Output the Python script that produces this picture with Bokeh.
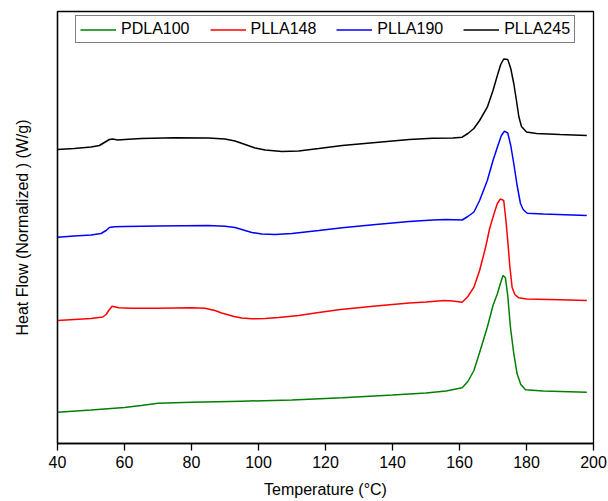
from bokeh.plotting import figure
from bokeh.models import Range1d, FixedTicker, Legend, LegendItem
from bokeh.embed import file_html
from bokeh.resources import INLINE

# ---- data (temperature in °C, heat flow normalized, curves offset vertically) ----
temp_pdla100 = [40, 50, 60, 65, 70, 80, 95, 110, 125, 140, 150, 156, 160.8, 162.5, 164.3, 166,
                168.3, 170, 171.3, 172.3, 173, 173.7, 174.4, 175.2, 176.2, 177.2, 178.3, 179.7, 185, 198]
hf_pdla100 = [0.313, 0.335, 0.36, 0.38, 0.403, 0.412, 0.423, 0.435, 0.457, 0.485, 0.505, 0.525, 0.557,
              0.62, 0.73, 0.91, 1.163, 1.38, 1.497, 1.61, 1.68, 1.657, 1.48, 1.163, 0.90, 0.697, 0.59,
              0.537, 0.525, 0.513]

temp_plla148 = [40, 45, 50, 53.5, 54.5, 55.3, 56.3, 57.3, 58.3, 62, 70, 80, 84, 87, 89, 92.7, 95, 98,
                102, 106, 112, 118, 124.5, 135, 145, 150, 155.4, 158, 160.8, 162.5, 164.3, 166, 167.8,
                169, 170.3, 171.3, 172.2, 173.2, 173.8, 174.4, 175, 175.7, 176.5, 177.7, 180, 190, 198]
hf_plla148 = [1.23, 1.24, 1.25, 1.265, 1.29, 1.33, 1.373, 1.365, 1.357, 1.352, 1.352, 1.357, 1.352,
              1.33, 1.305, 1.27, 1.255, 1.248, 1.25, 1.26, 1.28, 1.31, 1.34, 1.375, 1.405, 1.415, 1.43,
              1.425, 1.413, 1.47, 1.563, 1.73, 1.963, 2.15, 2.297, 2.40, 2.447, 2.43, 2.25, 2.03, 1.78,
              1.563, 1.49, 1.457, 1.445, 1.437, 1.43]

temp_plla190 = [40, 45, 50, 53, 54.5, 55.5, 57, 60, 70, 85, 90, 93, 95.5, 98, 101, 105, 110, 118, 125,
                135, 145, 152, 156, 160.8, 162.5, 164.3, 166, 168.3, 170, 171.3, 172.5, 173.4, 174.4,
                175.3, 176.2, 177.2, 178.2, 179, 180.2, 185, 198]
hf_plla190 = [2.063, 2.075, 2.085, 2.10, 2.13, 2.16, 2.167, 2.17, 2.175, 2.18, 2.172, 2.16, 2.135, 2.11,
              2.095, 2.09, 2.10, 2.13, 2.157, 2.19, 2.22, 2.235, 2.24, 2.235, 2.27, 2.315, 2.43, 2.63,
              2.83, 2.963, 3.08, 3.123, 3.105, 2.98, 2.80, 2.58, 2.40, 2.34, 2.303, 2.295, 2.28]

temp_plla245 = [40, 45, 50, 52.5, 54, 55.5, 56.5, 58, 60, 65, 75, 85, 90, 93, 96, 99, 102, 107, 112,
                118, 125, 135, 145, 152, 158, 160.8, 162.5, 164.3, 166, 168.3, 170, 171.3, 172.3, 173.2,
                174.4, 175.3, 176.2, 177, 177.7, 178.5, 180, 183, 190, 198]
hf_plla245 = [2.94, 2.95, 2.965, 2.98, 3.01, 3.04, 3.045, 3.035, 3.04, 3.05, 3.057, 3.055, 3.045, 3.025,
              2.99, 2.955, 2.935, 2.92, 2.925, 2.95, 2.98, 3.01, 3.04, 3.052, 3.055, 3.063, 3.10, 3.15,
              3.23, 3.363, 3.53, 3.68, 3.79, 3.845, 3.84, 3.75, 3.60, 3.43, 3.27, 3.17, 3.115, 3.10,
              3.09, 3.08]

series_names = ["PDLA100", "PLLA148", "PLLA190", "PLLA245"]
series_colors = ["#008000", "#ff0000", "#0000ff", "#000000"]
x_ticks = [40, 60, 80, 100, 120, 140, 160, 180, 200]
x_label = "Temperature (°C)"
y_label = "Heat Flow (Normalized ) (W/g)"

FONT = "Liberation Sans"

p = figure(width=608, height=501, output_backend="svg", toolbar_location=None,
           x_range=Range1d(40, 200), y_range=Range1d(0, 4.32),
           min_border_left=57, min_border_right=15, min_border_top=11, min_border_bottom=58)
p.grid.visible = False
p.background_fill_color = "white"
p.border_fill_color = "white"
p.outline_line_color = "black"
p.outline_line_width = 1.3

xs = [temp_pdla100, temp_plla148, temp_plla190, temp_plla245]
ys = [hf_pdla100, hf_plla148, hf_plla190, hf_plla245]
renderers = []
for x, y, c in zip(xs, ys, series_colors):
    r = p.line(x, y, line_color=c, line_width=1.5)
    renderers.append(r)

# x axis
p.xaxis.ticker = FixedTicker(ticks=x_ticks)
p.xaxis.minor_tick_line_color = None
p.xaxis.major_tick_out = 7
p.xaxis.major_tick_in = 0
p.xaxis.major_label_standoff = 5
p.xaxis.major_label_text_font = FONT
p.xaxis.major_label_text_font_size = "16px"
p.xaxis.major_label_text_color = "black"
p.xaxis.axis_label = x_label
p.xaxis.axis_label_text_font = FONT
p.xaxis.axis_label_text_font_size = "16px"
p.xaxis.axis_label_text_font_style = "normal"
p.xaxis.axis_label_text_color = "black"
p.xaxis.axis_label_standoff = 10
p.xaxis.axis_line_width = 1.3
p.xaxis.major_tick_line_width = 1.3

# y axis (no ticks)
p.yaxis.ticker = FixedTicker(ticks=[])
p.yaxis.minor_tick_line_color = None
p.yaxis.major_tick_line_color = None
p.yaxis.major_label_text_font_size = "0px"
p.yaxis.axis_line_width = 1.3
p.yaxis.axis_label = y_label
p.yaxis.axis_label_text_font = FONT
p.yaxis.axis_label_text_font_size = "16px"
p.yaxis.axis_label_text_font_style = "normal"
p.yaxis.axis_label_text_color = "black"
p.yaxis.axis_label_standoff = 27

items = [LegendItem(label=n, renderers=[r]) for n, r in zip(series_names, renderers)]
legend = Legend(items=items, orientation="horizontal", location=(18, 400))
legend.margin = 0
legend.padding = 4
legend.spacing = 20
legend.label_standoff = 5
legend.glyph_width = 36
legend.glyph_height = 17
legend.label_height = 17
legend.label_text_font = FONT
legend.label_text_font_size = "16px"
legend.label_text_color = "black"
legend.border_line_color = "black"
legend.border_line_width = 1.3
legend.background_fill_color = "white"
legend.background_fill_alpha = 1
p.add_layout(legend)

open("out.html", "w").write(file_html(p, INLINE))
